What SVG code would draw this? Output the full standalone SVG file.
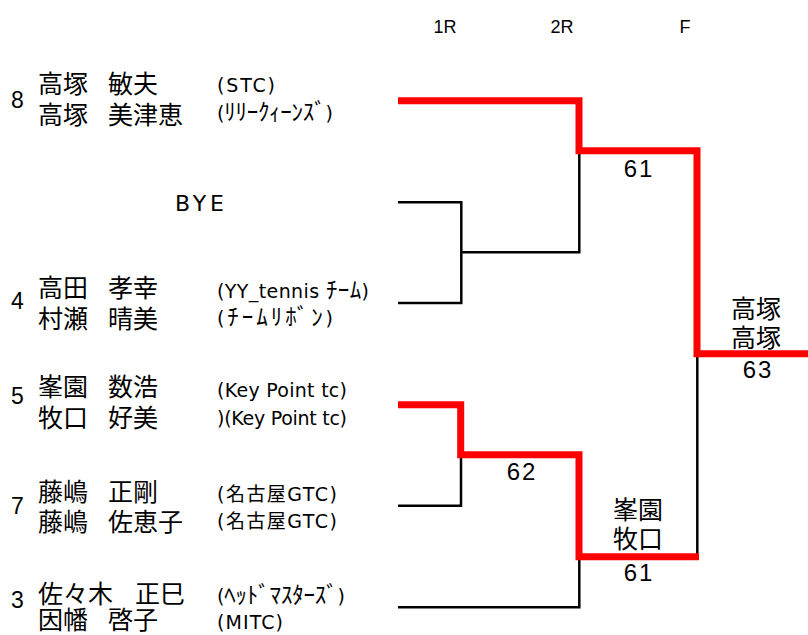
<svg xmlns="http://www.w3.org/2000/svg" width="808" height="635" viewBox="0 0 808 635">
<style>
text{font-family:"Liberation Sans","Noto Sans CJK JP",sans-serif;fill:#000}
.seed{font-size:23px}
.name{font-size:25px;font-family:"Noto Sans CJK JP","Liberation Sans",sans-serif}
.club{font-size:19px;font-family:"DejaVu Sans","Noto Sans CJK JP",sans-serif}
.kana{font-size:23px;font-family:"Noto Sans CJK JP",sans-serif}
.hdr{font-size:18px;text-anchor:middle}
.score{font-size:24px;text-anchor:middle;letter-spacing:2px}
.win{font-size:25px;text-anchor:middle;font-family:"Noto Sans CJK JP","Liberation Sans",sans-serif}
.bk{fill:none;stroke:#000;stroke-width:2.5}
.rd{fill:none;stroke:#f00;stroke-width:7;stroke-linejoin:miter;stroke-linecap:butt}
</style>
<rect width="808" height="635" fill="#fff"/>
<g id="headers">
<text class="hdr" x="445" y="33">1R</text>
<text class="hdr" x="562" y="33">2R</text>
<text class="hdr" x="685" y="33">F</text>
</g>
<g id="entry-8">
<text class="seed" x="11" y="108">8</text>
<text class="name" x="38" y="93">高塚</text><text class="name" x="108" y="93">敏夫</text>
<text class="name" x="38" y="124">高塚</text><text class="name" x="108" y="124">美津恵</text>
<text class="club" x="217" y="92" textLength="58" lengthAdjust="spacing">(STC)</text>
<text class="club" x="217" y="120" textLength="116" lengthAdjust="spacing">(<tspan class="kana">ﾘﾘｰｸｨｰﾝｽﾞ</tspan>)</text>
</g>
<g id="entry-bye">
<text x="175" y="210.5" style="font-size:22px;font-family:'DejaVu Sans',sans-serif" textLength="49" lengthAdjust="spacing">BYE</text>
</g>
<g id="entry-4">
<text class="seed" x="11" y="309">4</text>
<text class="name" x="38" y="297">高田</text><text class="name" x="108" y="297">孝幸</text>
<text class="name" x="38" y="328">村瀬</text><text class="name" x="108" y="328">晴美</text>
<text class="club" x="217" y="298" textLength="152" lengthAdjust="spacing">(YY_tennis <tspan class="kana">ﾁｰﾑ</tspan>)</text>
<text class="club" x="217" y="325" textLength="116" lengthAdjust="spacing">(<tspan class="kana">ﾁｰﾑﾘﾎﾞﾝ</tspan>)</text>
</g>
<g id="entry-5">
<text class="seed" x="11" y="404">5</text>
<text class="name" x="38" y="396">峯園</text><text class="name" x="108" y="396">数浩</text>
<text class="name" x="38" y="427">牧口</text><text class="name" x="108" y="427">好美</text>
<text class="club" x="217" y="397" textLength="130" lengthAdjust="spacing">(Key Point tc)</text>
<text class="club" x="217" y="425" textLength="130" lengthAdjust="spacing">)(Key Point tc)</text>
</g>
<g id="entry-7">
<text class="seed" x="11" y="514">7</text>
<text class="name" x="38" y="501">藤嶋</text><text class="name" x="108" y="501">正剛</text>
<text class="name" x="38" y="531">藤嶋</text><text class="name" x="108" y="531">佐恵子</text>
<text class="club" x="217" y="501" textLength="120" lengthAdjust="spacing">(名古屋GTC)</text>
<text class="club" x="217" y="528" textLength="120" lengthAdjust="spacing">(名古屋GTC)</text>
</g>
<g id="entry-3">
<text class="seed" x="11" y="608">3</text>
<text class="name" x="38" y="603">佐々木</text><text class="name" x="135" y="603">正巳</text>
<text class="name" x="38" y="629">因幡</text><text class="name" x="108" y="629">啓子</text>
<text class="club" x="217" y="603" textLength="128" lengthAdjust="spacing">(<tspan class="kana">ﾍｯﾄﾞﾏｽﾀｰｽﾞ</tspan>)</text>
<text class="club" x="217" y="629" textLength="66" lengthAdjust="spacing">(MITC)</text>
</g>
<g id="connectors">
<path class="bk" d="M398,202.3 H461.3 V303 H398 M461.3,252.3 H579.3 V151"/>
<path class="bk" d="M461,454 V505.7 H398 M579.3,556 V607.3 H398 M697.3,353 V557"/>
<path class="rd" d="M398,100.7 H579 V150.7 H697 V353.7 H808"/>
<path class="rd" d="M398,404.7 H460.7 V454.7 H579 V556.7 H699"/>
</g>
<g id="results">
<text class="score" x="639" y="176.5">61</text>
<text class="score" x="522" y="480">62</text>
<text class="score" x="639" y="580.5">61</text>
<text class="score" x="758" y="378">63</text>
<text class="win" x="756" y="317.5">高塚</text>
<text class="win" x="756" y="346.5">高塚</text>
<text class="win" x="638" y="519">峯園</text>
<text class="win" x="638" y="548">牧口</text>
</g>
</svg>
